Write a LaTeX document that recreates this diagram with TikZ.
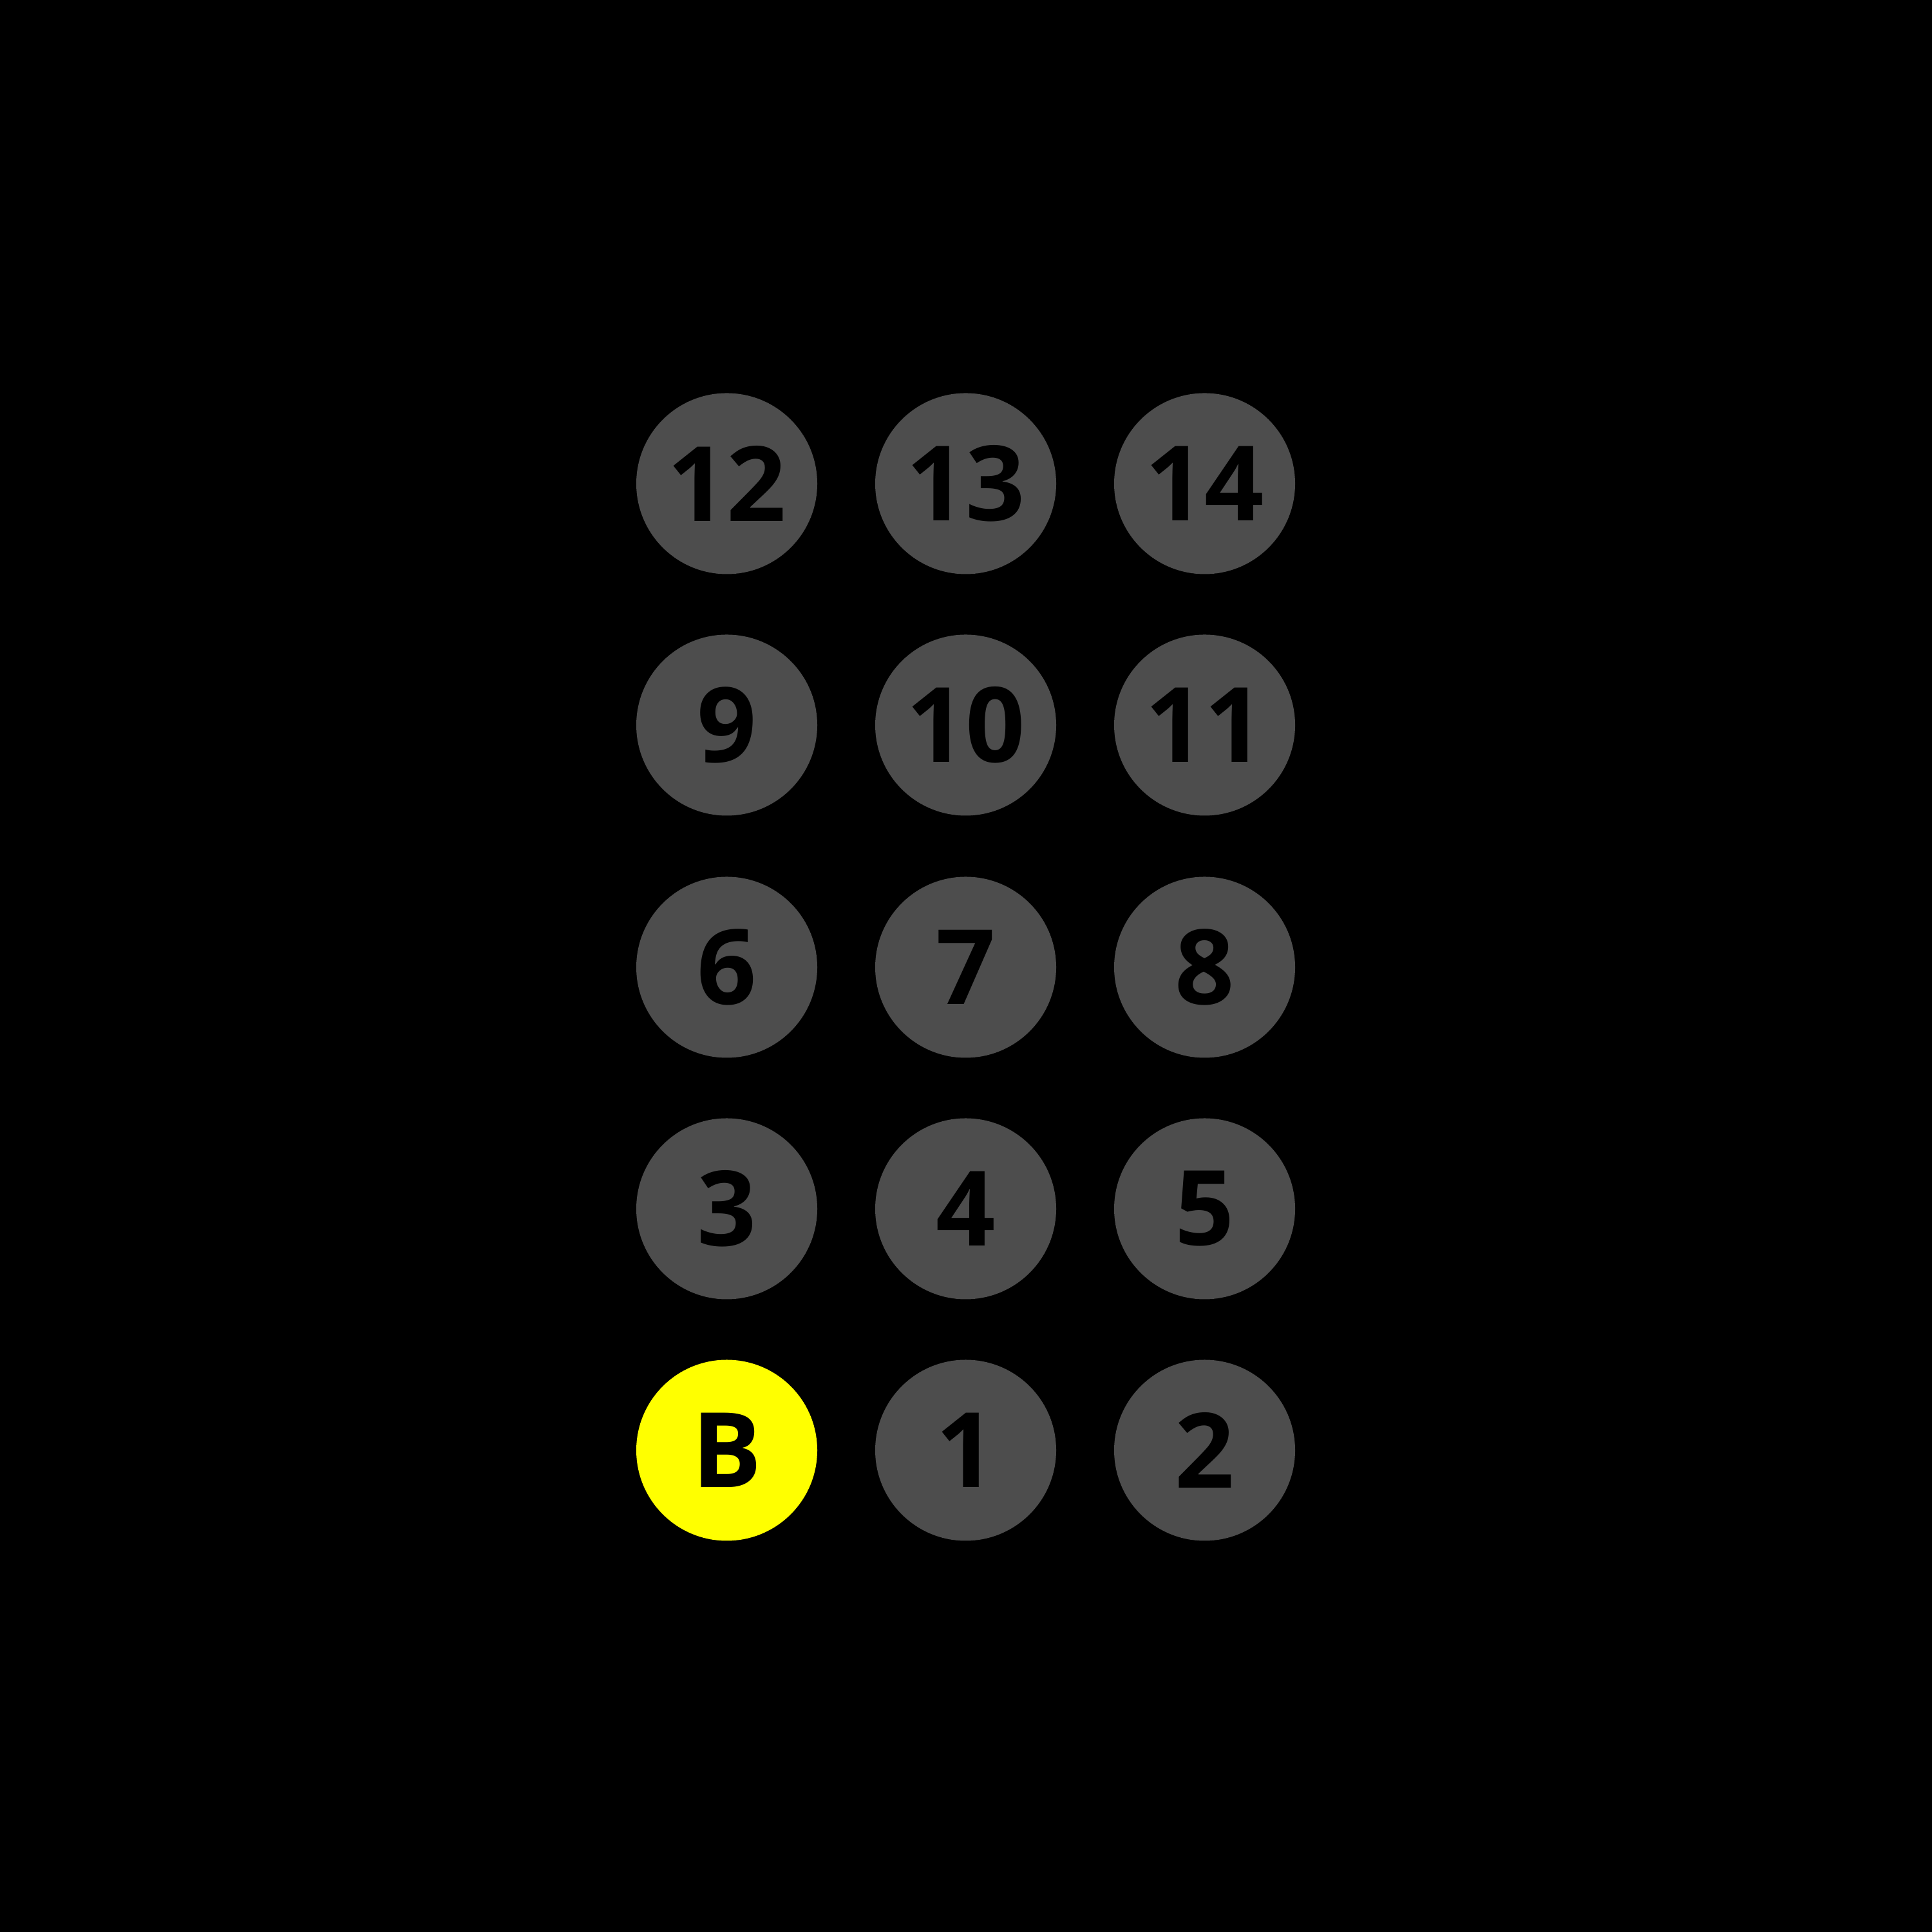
\documentclass[tikz,border=0pt]{standalone}
\usepackage{fontspec}
\newfontfamily\floorfont{Open Sans}
\usepackage{xcolor}
\usepackage{tikz}
\definecolor{btngray}{HTML}{4D4D4D}
\definecolor{btnyellow}{HTML}{FFFF00}

\begin{document}
\begin{tikzpicture}[
  button/.style={circle,fill=btngray,minimum size=2.81cm,inner sep=0pt,
    font=\floorfont\bfseries\fontsize{46}{46}\selectfont,text=black},
  lit/.style={button,fill=btnyellow}
]

% Background
\fill[black] (0,0) rectangle (30,30);
\useasboundingbox (0,0) rectangle (30,30);

% Ground row
\node[lit] (fB) at (11.285,7.48) {B};
\node[button] (f1) at (14.995,7.48) {1};
\node[button] (f2) at (18.705,7.48) {2};

% Upper floors
\foreach \row/\ya/\yb/\yc/\yy in {1/3/4/5/11.23, 2/6/7/8/14.98, 3/9/10/11/18.74, 4/12/13/14/22.49}{
  \node[button] (f\ya) at (11.285,\yy) {\ya};
  \node[button] (f\yb) at (14.995,\yy) {\yb};
  \node[button] (f\yc) at (18.705,\yy) {\yc};
}

\end{tikzpicture}
\end{document}
